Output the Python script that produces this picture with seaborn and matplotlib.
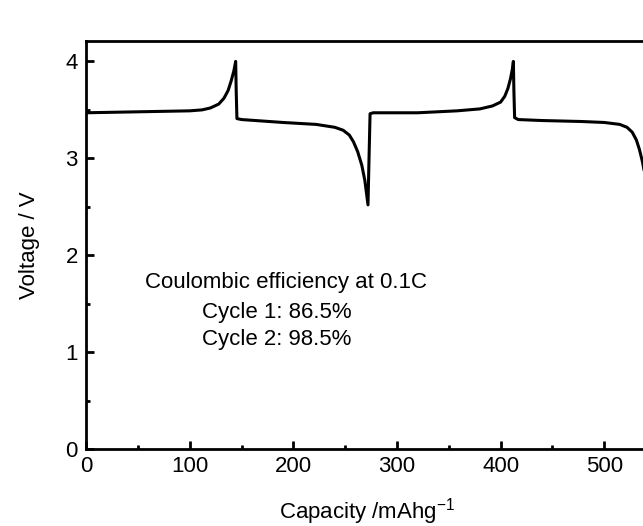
import matplotlib
matplotlib.use("Agg")
import matplotlib.pyplot as plt
from matplotlib.ticker import MultipleLocator
import seaborn as sns
import pandas as pd

capacity = [0, 50, 100, 112, 120, 128, 133, 137, 140, 142.5, 144.3, 144.8, 145.5, 150,
            190, 222, 240, 248, 254, 258, 262, 266, 269, 272, 273, 274, 277,
            320, 358, 380, 392, 400, 404, 407, 409.5, 411.5, 412.3, 412.8, 413.5, 417,
            440, 478, 500, 515, 522, 527, 531, 534, 537, 540, 543]
voltage = [3.47, 3.48, 3.49, 3.50, 3.52, 3.56, 3.62, 3.70, 3.80, 3.90, 4.0, 3.7, 3.41, 3.40,
           3.37, 3.35, 3.32, 3.29, 3.24, 3.17, 3.07, 2.93, 2.77, 2.52, 3.0, 3.46, 3.47,
           3.47, 3.49, 3.51, 3.54, 3.58, 3.64, 3.72, 3.82, 3.93, 4.0, 3.7, 3.42, 3.40,
           3.39, 3.38, 3.37, 3.35, 3.32, 3.27, 3.19, 3.09, 2.96, 2.78, 2.54]

x_ticks = [0, 100, 200, 300, 400, 500]
y_ticks = [0, 1, 2, 3, 4]
annot_lines = ["Coulombic efficiency at 0.1C", "Cycle 1: 86.5%", "Cycle 2: 98.5%"]

sns.set_theme(style="white")
plt.rcParams["font.family"] = ["Liberation Sans", "DejaVu Sans"]
plt.rcParams["text.color"] = "black"
plt.rcParams["axes.labelcolor"] = "black"

df = pd.DataFrame({"Capacity": capacity, "Voltage": voltage})

fig = plt.figure(figsize=(6.43, 5.26), dpi=100)
ax = fig.add_axes([0.134, 0.146, 0.875, 0.776])
sns.lineplot(data=df, x="Capacity", y="Voltage", sort=False, color="black",
             linewidth=2.2, ax=ax)

ax.set_xlim(0, 543)
ax.set_ylim(0, 4.21)
ax.set_xticks(x_ticks)
ax.set_yticks(y_ticks)
ax.xaxis.set_minor_locator(MultipleLocator(50))
ax.yaxis.set_minor_locator(MultipleLocator(0.5))
ax.tick_params(which="major", direction="in", length=6, width=2, colors="black",
               labelsize=16)
ax.tick_params(which="minor", direction="in", length=3, width=2, colors="black")
ax.tick_params(axis="x", which="both", bottom=True, top=False, pad=5)
ax.tick_params(axis="y", which="both", left=True, right=False, pad=6)
for s in ax.spines.values():
    s.set_linewidth(2)
    s.set_color("black")

ax.set_xlabel(r"Capacity /mAhg$^{\mathregular{-1}}$", fontsize=16, labelpad=14, color="black")
ax.set_ylabel("Voltage / V", fontsize=16, labelpad=18, color="black")

ax.text(57, 1.715, annot_lines[0], fontsize=16, va="center", ha="left", color="black")
ax.text(112, 1.415, annot_lines[1], fontsize=16, va="center", ha="left", color="black")
ax.text(112, 1.13, annot_lines[2], fontsize=16, va="center", ha="left", color="black")

fig.savefig("out.png", dpi=100)
